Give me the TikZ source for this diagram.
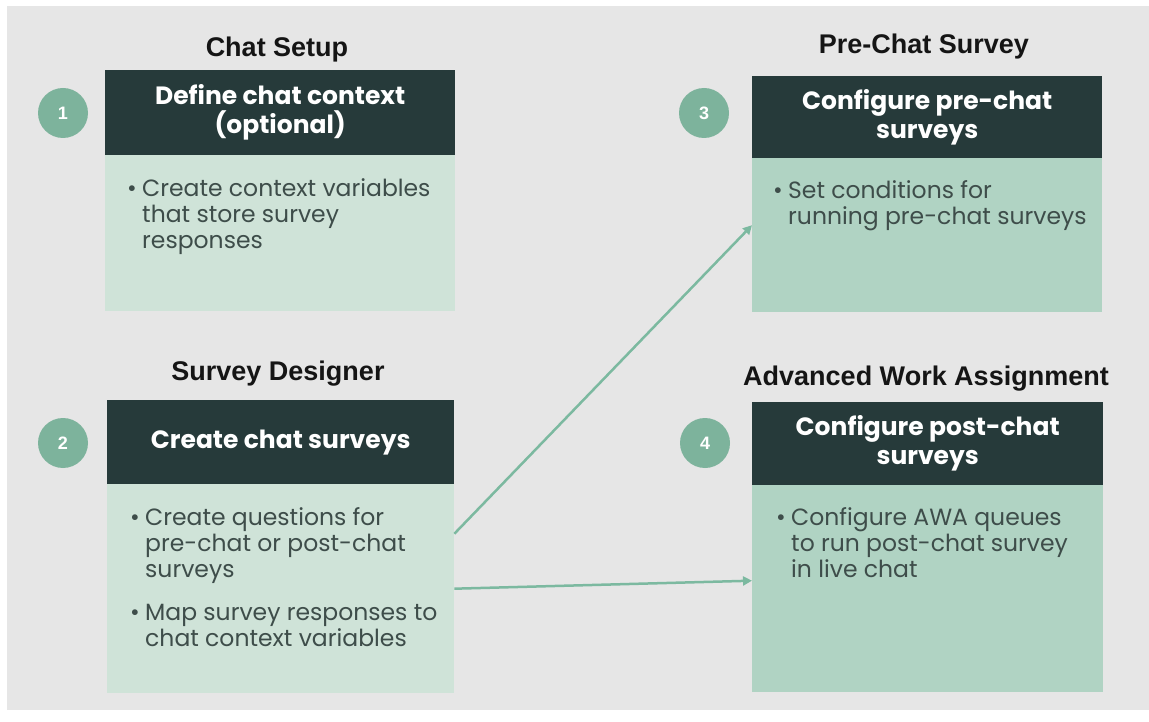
\documentclass[tikz,border=0pt]{standalone}
\usepackage{fontspec}
\setmainfont{Poppins}
\newfontfamily\arialfont{Liberation Sans}
\usetikzlibrary{arrows.meta,calc}
\definecolor{bgc}{HTML}{E6E6E6}
\definecolor{hdr}{HTML}{263A3A}
\definecolor{lightbody}{HTML}{CFE3D8}
\definecolor{midbody}{HTML}{B0D3C3}
\definecolor{circ}{HTML}{7DB39C}
\definecolor{arrowc}{HTML}{7CB9A0}
\definecolor{bodytext}{HTML}{3E4D4A}
\definecolor{titlec}{HTML}{151515}
\newcommand{\bul}{\makebox[15pt][l]{\textbullet}}
\tikzset{
  hdrbox/.style={fill=hdr, anchor=north west, inner sep=0pt, text=white,
    align=center, font=\bfseries\fontsize{25}{29}\selectfont},
  bodybox/.style={anchor=north west, inner sep=0pt},
  bodytxt/.style={anchor=base west, inner sep=0pt, text=bodytext,
    font=\fontsize{23.5}{26}\selectfont},
  titletxt/.style={anchor=base, inner sep=0pt, text=titlec,
    font=\arialfont\bfseries\fontsize{27}{30}\selectfont},
  numcirc/.style={circle, fill=circ, minimum size=50pt, inner sep=0pt,
    text=white, font=\arialfont\bfseries\fontsize{18}{18}\selectfont},
  flowarrow/.style={draw=arrowc, line width=2.5pt,
    -{Triangle[length=9pt,width=9pt]}}
}
\begin{document}
\begin{tikzpicture}[x=1pt,y=-1pt]
\useasboundingbox (0,0) rectangle (1149,722);
\fill[white] (0,0) rectangle (1149,722);
\fill[bgc] (7,6) rectangle (1149,710);

% titles
\node[titletxt] (s1) at (277,57) {Chat Setup};
\node[titletxt] (s3) at (924,54) {Pre-Chat Survey};
\node[titletxt] (s2) at (278,380) {Survey Designer};
\node[titletxt] (s4) at (926,385) {Advanced Work Assignment};

% box 1
\node[hdrbox, minimum width=350pt, minimum height=85pt] (h1) at (105,70) {Define chat context\\(optional)};
\node[bodybox, fill=lightbody, minimum width=350pt, minimum height=156pt] (b1) at (105,155) {};
\node[bodytxt] (t1) at ($(b1.north west)+(22,42)$) {\begin{tabular}[t]{@{}l@{}l@{}}
\bul & Create context variables\\ & that store survey\\ & responses\end{tabular}};

% box 3
\node[hdrbox, minimum width=350pt, minimum height=82pt] (h3) at (752,76) {Configure pre-chat\\surveys};
\node[bodybox, fill=midbody, minimum width=350pt, minimum height=154pt] (b3) at (752,158) {};
\node[bodytxt] (t3) at ($(b3.north west)+(21,41)$) {\begin{tabular}[t]{@{}l@{}l@{}}
\bul & Set conditions for\\ & running pre-chat surveys\end{tabular}};

% box 2
\node[hdrbox, minimum width=347pt, minimum height=84pt] (h2) at (107,400) {Create chat surveys};
\node[bodybox, fill=lightbody, minimum width=347pt, minimum height=209pt] (b2) at (107,484) {};
\node[bodytxt] (t2) at ($(b2.north west)+(23,41)$) {\begin{tabular}[t]{@{}l@{}l@{}}
\bul & Create questions for\\ & pre-chat or post-chat\\ & surveys\\[17pt]
\bul & Map survey responses to\\ & chat context variables\end{tabular}};

% box 4
\node[hdrbox, minimum width=351pt, minimum height=83pt] (h4) at (752,402) {Configure post-chat\\surveys};
\node[bodybox, fill=midbody, minimum width=351pt, minimum height=207pt] (b4) at (752,485) {};
\node[bodytxt] (t4) at ($(b4.north west)+(24,40)$) {\begin{tabular}[t]{@{}l@{}l@{}}
\bul & Configure AWA queues\\ & to run post-chat survey\\ & in live chat\end{tabular}};

% number circles
\node[numcirc] (c1) at (63,113) {1};
\node[numcirc] (c2) at (63,443) {2};
\node[numcirc] (c3) at (704,113) {3};
\node[numcirc] (c4) at (705,443) {4};

% arrows
\draw[flowarrow] ([yshift=55pt]b2.east) -- ([yshift=10pt]b3.west);
\draw[flowarrow] (b2.east) -- ([yshift=8pt]b4.west);
\end{tikzpicture}
\end{document}
